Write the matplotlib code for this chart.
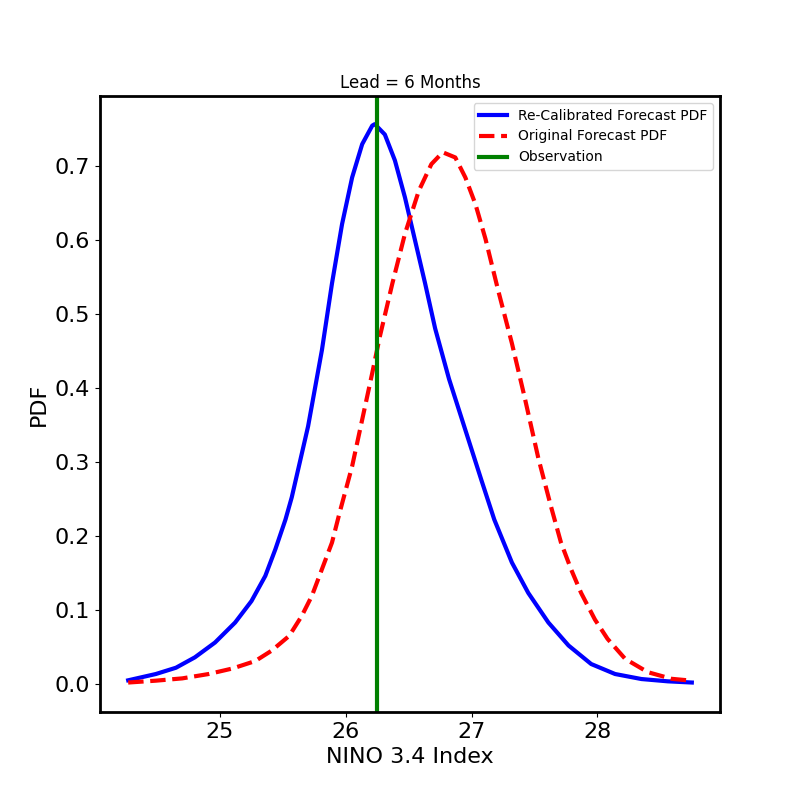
import matplotlib
matplotlib.use("Agg")
import matplotlib.pyplot as plt

# values
x_recal = [24.27, 24.49, 24.65, 24.80, 24.96, 25.12, 25.25, 25.36, 25.44, 25.52, 25.57, 25.70,
           25.81, 25.89, 25.97, 26.05, 26.13, 26.21, 26.23, 26.31, 26.39, 26.47, 26.55, 26.63,
           26.71, 26.82, 26.95, 27.08, 27.18, 27.32, 27.45, 27.61, 27.77, 27.95, 28.14, 28.35,
           28.56, 28.75]
pdf_recal = [0.005, 0.0135, 0.022, 0.036, 0.056, 0.083, 0.112, 0.146, 0.182, 0.222, 0.252, 0.348,
             0.451, 0.541, 0.621, 0.684, 0.729, 0.754, 0.756, 0.742, 0.707, 0.657, 0.599, 0.541,
             0.480, 0.412, 0.343, 0.274, 0.222, 0.164, 0.123, 0.083, 0.052, 0.027, 0.0135, 0.0067,
             0.0036, 0.002]

x_orig = [24.27, 24.49, 24.70, 24.91, 25.10, 25.28, 25.41, 25.55, 25.65, 25.73, 25.81, 25.89,
          25.95, 26.05, 26.13, 26.21, 26.27, 26.37, 26.47, 26.58, 26.68, 26.77, 26.87, 26.95,
          27.03, 27.11, 27.21, 27.32, 27.42, 27.53, 27.63, 27.71, 27.79, 27.87, 27.98, 28.08,
          28.22, 28.40, 28.59, 28.75]
pdf_orig = [0.002, 0.0045, 0.0076, 0.0135, 0.021, 0.031, 0.045, 0.065, 0.092, 0.119, 0.155, 0.191,
            0.231, 0.294, 0.357, 0.42, 0.469, 0.541, 0.608, 0.666, 0.702, 0.718, 0.711, 0.684,
            0.648, 0.601, 0.532, 0.46, 0.388, 0.305, 0.24, 0.191, 0.155, 0.123, 0.087, 0.061,
            0.034, 0.016, 0.007, 0.0045]

obs = 26.25

fig, ax = plt.subplots(figsize=(8, 8), dpi=100)
ax.plot(x_recal, pdf_recal, color="blue", lw=3, label="Re-Calibrated Forecast PDF")
ax.plot(x_orig, pdf_orig, color="red", lw=3, ls="--", label="Original Forecast PDF")
ax.axvline(obs, color="green", lw=3, label="Observation")
ax.set_ylim(-0.0378, 0.794)
ax.set_xlabel("NINO 3.4 Index", fontsize=16)
ax.set_ylabel("PDF", fontsize=16)
ax.set_title("Lead = 6 Months", fontsize=12)
ax.tick_params(labelsize=16)
for s in ax.spines.values():
    s.set_linewidth(2)
ax.legend(loc="upper right", fontsize=10)
plt.savefig("out.png")
